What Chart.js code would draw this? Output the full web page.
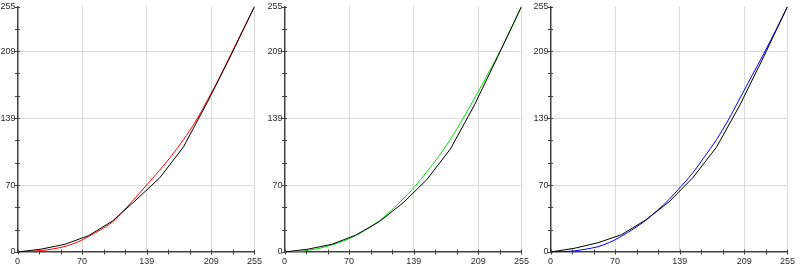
<!DOCTYPE html>
<html><head><meta charset="utf-8">
<script src="https://cdn.jsdelivr.net/npm/chart.js@4"></script>
<style>
html,body{margin:0;padding:0;background:#fff;width:800px;height:267px;overflow:hidden}
.p{position:absolute;top:0;width:267px;height:267px}
</style></head><body>
<div class="p" style="left:0"><canvas id="c0" width="267" height="267"></canvas></div>
<div class="p" style="left:267px"><canvas id="c1" width="267" height="267"></canvas></div>
<div class="p" style="left:533px"><canvas id="c2" width="267" height="267"></canvas></div>
<script>
// reference (black) curve sample positions and values per panel
const refX = [0, 25.5, 51, 76.5, 102, 127.5, 153, 178.5, 204, 229.5, 255];
const blackRed   = [0, 3, 8, 17, 32, 54, 77, 109, 155, 204, 255];
const blackGreen = [0, 3, 8, 17.5, 31.5, 51, 75, 107, 152, 203, 255];
const blackBlue  = [0, 3.8, 9.6, 18, 33, 52, 77, 108.7, 153, 203, 255];

// measured channel curves
const curveX = [0, 12.75, 25.5, 38.25, 51, 63.75, 76.5, 89.25, 102, 114.75, 127.5,
                140.25, 153, 165.75, 178.5, 191.25, 204, 216.75, 229.5, 242.25, 255];
const redValues   = [0, 0.5, 1.5, 3.2, 5.8, 10, 16, 23, 31, 43.5, 57, 71, 85, 100, 116.5, 135, 157, 180, 205, 230, 255];
const greenValues = [0, 0.5, 1.7, 4, 7.4, 11.5, 17, 24, 32.5, 43, 55, 68, 83, 99, 117, 137, 159, 181, 204, 229, 255];
const blueValues  = [0, 0.3, 1.2, 3, 5.5, 10, 16.5, 24, 32.5, 43, 54.5, 68, 82, 99, 116.5, 137, 160, 183, 206, 230, 255];

// axis ticks
const tickValues = [0, 23.2, 46.4, 69.5, 92.7, 115.9, 139.1, 162.3, 185.5, 208.6, 231.8, 255];
const tickLabels = ['0', '', '', '70', '', '', '139', '', '', '209', '', '255'];

const tickMarks = {
  id: 'tickMarks',
  afterDraw(chart) {
    const {ctx, scales: {x, y}} = chart;
    ctx.save();
    ctx.strokeStyle = '#404040';
    ctx.lineWidth = 1;
    ctx.beginPath();
    tickValues.forEach(v => {
      const px = Math.round(x.getPixelForValue(v)) + 0.5;
      ctx.moveTo(px, chart.chartArea.bottom - 2.5);
      ctx.lineTo(px, chart.chartArea.bottom + 2.5);
      const py = Math.round(y.getPixelForValue(v)) + 0.5;
      ctx.moveTo(chart.chartArea.left - 2.5, py);
      ctx.lineTo(chart.chartArea.left + 2.5, py);
    });
    ctx.stroke();
    ctx.restore();
  }
};

function pts(xs, ys) { return xs.map((v, i) => ({x: v, y: ys[i]})); }

function axis(isX) {
  return {
    type: 'linear', min: 0, max: 255,
    afterBuildTicks(s) { s.ticks = tickValues.map(v => ({value: v})); },
    afterFit(s) { if (isX) s.height = 15; else s.width = 17.5; },
    ticks: {
      autoSkip: false, maxRotation: 0, padding: isX ? 5 : 2,
      callback: (v, i) => tickLabels[i],
      font: {family: 'Liberation Sans', size: 9, lineHeight: 1},
      color: '#2a2a2a'
    },
    grid: {
      drawTicks: false,
      lineWidth: 1,
      color: c => (c.index > 0 && tickLabels[c.index] && (isX || c.index < tickValues.length - 1)) ? '#d9d9d9' : 'rgba(0,0,0,0)'
    },
    border: {color: '#404040', width: 1.5}
  };
}

function makePanel(id, blackVals, colVals, color) {
  new Chart(document.getElementById(id), {
    type: 'line',
    data: {
      datasets: [
        {data: pts(refX, blackVals), borderColor: '#000', borderWidth: 1, pointRadius: 0, tension: 0},
        {data: pts(curveX, colVals), borderColor: color, borderWidth: 1, pointRadius: 0, cubicInterpolationMode: 'monotone'}
      ]
    },
    options: {
      responsive: false, animation: false, events: [],
      layout: {padding: {top: 5, right: 10, left: 0, bottom: 0}},
      plugins: {legend: {display: false}, tooltip: {enabled: false}},
      scales: {x: axis(true), y: axis(false)}
    },
    plugins: [tickMarks]
  });
}

makePanel('c0', blackRed, redValues, '#ff0000');
makePanel('c1', blackGreen, greenValues, '#00e000');
makePanel('c2', blackBlue, blueValues, '#0000ff');
</script>
</body></html>
